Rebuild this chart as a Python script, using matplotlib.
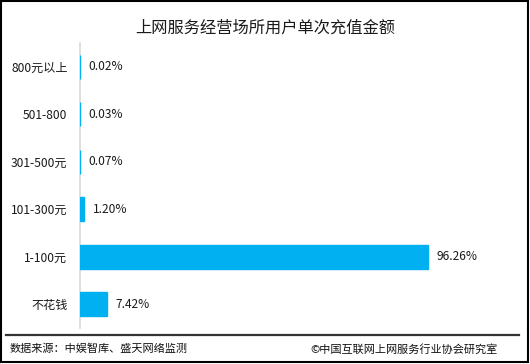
import matplotlib
matplotlib.use('Agg')
import matplotlib.pyplot as plt
from matplotlib.patches import Rectangle
from matplotlib.lines import Line2D

plt.rcParams['font.family'] = ['Noto Sans CJK SC', 'DejaVu Sans']

titulo = '上网服务经营场所用户单次充值金额'
categorias = ['800元以上', '501-800', '301-500元', '101-300元', '1-100元', '不花钱']
valores = [0.02, 0.03, 0.07, 1.20, 96.26, 7.42]
etiquetas = ['0.02%', '0.03%', '0.07%', '1.20%', '96.26%', '7.42%']
fuente = '数据来源：中娱智库、盛天网络监测'
copyright_txt = '©中国互联网上网服务行业协会研究室'

W, H = 530, 364
fig = plt.figure(figsize=(W / 100, H / 100), dpi=100)

# ejes en coordenadas de pixel
x0, x1, y_top, y_bot = 80, 520, 43, 328
ax = fig.add_axes([x0 / W, 1 - y_bot / H, (x1 - x0) / W, (y_bot - y_top) / H])

pos = list(range(len(categorias)))
ax.barh(pos, valores, height=0.5, color='#00B0F0', edgecolor='#00B0F0', linewidth=1.0, zorder=3)
ax.set_ylim(len(categorias) - 0.5, -0.5)
ax.set_xlim(0, (x1 - x0) / 3.615)

for p, v, t in zip(pos, valores, etiquetas):
    ax.annotate(t, (v, p), xytext=(6, 0), textcoords='offset points',
                va='center', ha='left', fontsize=8.6, color='#1a1a1a')

ax.set_yticks(pos)
ax.set_yticklabels(categorias, fontsize=8.7, color='#1a1a1a')
ax.tick_params(axis='y', length=0, pad=9)
ax.set_xticks([])
for s in ['top', 'right', 'bottom']:
    ax.spines[s].set_visible(False)
ax.spines['left'].set_color('#D9D9D9')
ax.spines['left'].set_linewidth(1.2)
ax.spines['left'].set_zorder(1)

fig.text(0.5, 1 - 28 / H, titulo, ha='center', va='center', fontsize=11.7, color='#1a1a1a')

# linea separadora y pie
fig.add_artist(Line2D([6 / W, 519 / W], [1 - 335 / H, 1 - 335 / H], color='#333333', linewidth=1.6))
fig.text(10 / W, 1 - 349 / H, fuente, ha='left', va='center', fontsize=8, color='#111111')
fig.text(498 / W, 1 - 349 / H, copyright_txt, ha='right', va='center', fontsize=8, color='#111111')

# marco
fig.add_artist(Rectangle((1 / W, 2 / H), 527 / W, 361 / H, transform=fig.transFigure,
                         fill=False, edgecolor='black', linewidth=1.5))

fig.savefig('out.png', dpi=100)
